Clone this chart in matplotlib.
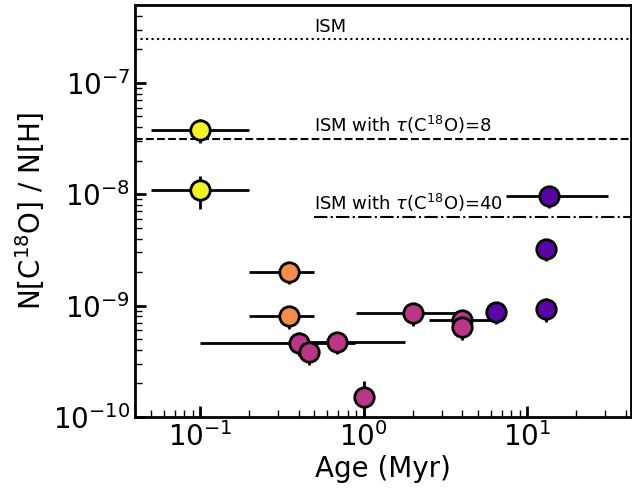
import matplotlib.pyplot as plt

# 数据
age = [0.1, 0.1, 0.35, 0.35, 0.4, 0.46, 0.69, 1.0, 2.0, 4.0, 4.0, 6.45, 13.0, 13.0, 13.6]
age_lo = [0.05, 0.05, 0.2, 0.2, 0.1, 0.46, 0.46, 1.0, 0.9, 2.5, 4.0, 6.45, 13.0, 13.0, 7.4]
age_hi = [0.2, 0.2, 0.5, 0.5, 0.88, 0.46, 1.8, 1.0, 3.9, 6.1, 4.0, 6.45, 13.0, 13.0, 31.0]
ratio = [3.8e-8, 1.1e-8, 2.0e-9, 8.0e-10, 4.65e-10, 3.85e-10, 4.75e-10, 1.5e-10,
         8.6e-10, 7.5e-10, 6.4e-10, 8.8e-10, 9.4e-10, 3.2e-9, 9.7e-9]
ratio_err = [0.9e-8, 0.36e-8, 0.45e-9, 1.8e-10, 1.1e-10, 0.9e-10, 1.1e-10, 0.6e-10,
             2.0e-10, 1.7e-10, 1.5e-10, 2.0e-10, 2.2e-10, 0.7e-9, 2.2e-9]
colors = ['#f2f226', '#f2f226', '#f48c4c', '#f48c4c', '#bb3589', '#bb3589', '#bb3589',
          '#bb3589', '#bb3589', '#bb3589', '#bb3589', '#5b04a5', '#5b04a5', '#5b04a5', '#5b04a5']

ism = 2.5e-7
tau8 = 8
tau40 = 40

fig = plt.figure(figsize=(6.32, 4.91), dpi=100)
ax = fig.add_axes([0.2136, 0.1507, 0.7846, 0.8391])

for i in range(len(age)):
    xerr = [[age[i] - age_lo[i]], [age_hi[i] - age[i]]]
    ax.errorbar(age[i], ratio[i], xerr=xerr, yerr=ratio_err[i], fmt='o', ms=14,
                mfc=colors[i], mec='black', mew=2, ecolor='black', elinewidth=2,
                capsize=0, zorder=3)

ax.axhline(ism, color='black', ls=':', lw=1.5)
ax.axhline(ism / tau8, color='black', ls='--', lw=1.5)
ax.plot([0.5, 45], [ism / tau40] * 2, color='black', ls='-.', lw=1.5)

ax.text(0.5, ism * 1.06, 'ISM', fontsize=13, va='bottom')
ax.text(0.5, ism / tau8 * 1.06, r'ISM with $\tau$(C$^{18}$O)=8', fontsize=13, va='bottom')
ax.text(0.5, ism / tau40 * 1.06, r'ISM with $\tau$(C$^{18}$O)=40', fontsize=13, va='bottom')

ax.set_xscale('log')
ax.set_yscale('log')
ax.set_xlim(0.04, 43)
ax.set_ylim(1e-10, 5e-7)
ax.set_xlabel('Age (Myr)', fontsize=20, labelpad=2)
ax.set_ylabel('N[C$^{18}$O] / N[H]', fontsize=20)
ax.tick_params(which='both', direction='in', labelsize=20)
ax.tick_params(which='major', length=8, width=2)
ax.tick_params(which='minor', length=5, width=1)
for s in ax.spines.values():
    s.set_linewidth(2)

plt.savefig('out.png', dpi=100)
